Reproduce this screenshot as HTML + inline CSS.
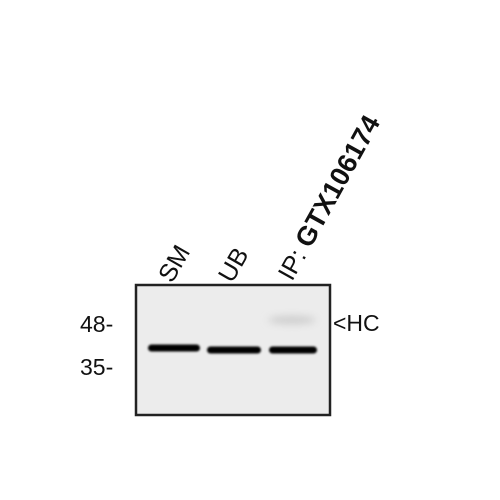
<!DOCTYPE html>
<html><head><meta charset="utf-8"><style>
html,body{margin:0;padding:0;background:#fff;}
svg{display:block;font-family:"Liberation Sans",Arial,sans-serif;}
</style></head><body>
<svg width="500" height="500" viewBox="0 0 500 500">
<defs>
<filter id="blur1" x="-20%" y="-100%" width="140%" height="300%"><feGaussianBlur stdDeviation="1"/></filter>
<filter id="blur4" x="-20%" y="-200%" width="140%" height="500%"><feGaussianBlur stdDeviation="4"/></filter>
</defs>
<rect x="136" y="285" width="194" height="130" fill="#ececec" stroke="#222" stroke-width="2.5"/>
<ellipse cx="292" cy="320" rx="24" ry="4" fill="#cccccc" filter="url(#blur4)"/>
<g id="bands"></g>
<g fill="#111">
<text x="80" y="332" font-size="23">48-</text>
<text x="80" y="375" font-size="23">35-</text>
<text x="333" y="331" font-size="23">&lt;HC</text>
<text transform="translate(172,284) rotate(-60)" font-size="25">SM</text>
<text transform="translate(232,284) rotate(-60)" font-size="25">UB</text>
<text transform="translate(292,282) rotate(-61)" font-size="25">IP: <tspan font-weight="bold" font-size="27">GTX106174</tspan></text>
</g>
</svg>
<script>
const lanes=['SM','UB','IP'];
const laneStart=[148,207,269];
const laneEnd=[200,261,317];
const bandY=[348,350,350];
const g=document.getElementById('bands');
lanes.forEach((l,i)=>{
  const r=document.createElementNS('http://www.w3.org/2000/svg','rect');
  r.setAttribute('x',laneStart[i]);r.setAttribute('y',bandY[i]-3.5);
  r.setAttribute('width',laneEnd[i]-laneStart[i]);r.setAttribute('height',7);
  r.setAttribute('rx',3.5);r.setAttribute('fill','#000');r.setAttribute('filter','url(#blur1)');
  
  
  g.appendChild(r);
});
</script>
</body></html>
